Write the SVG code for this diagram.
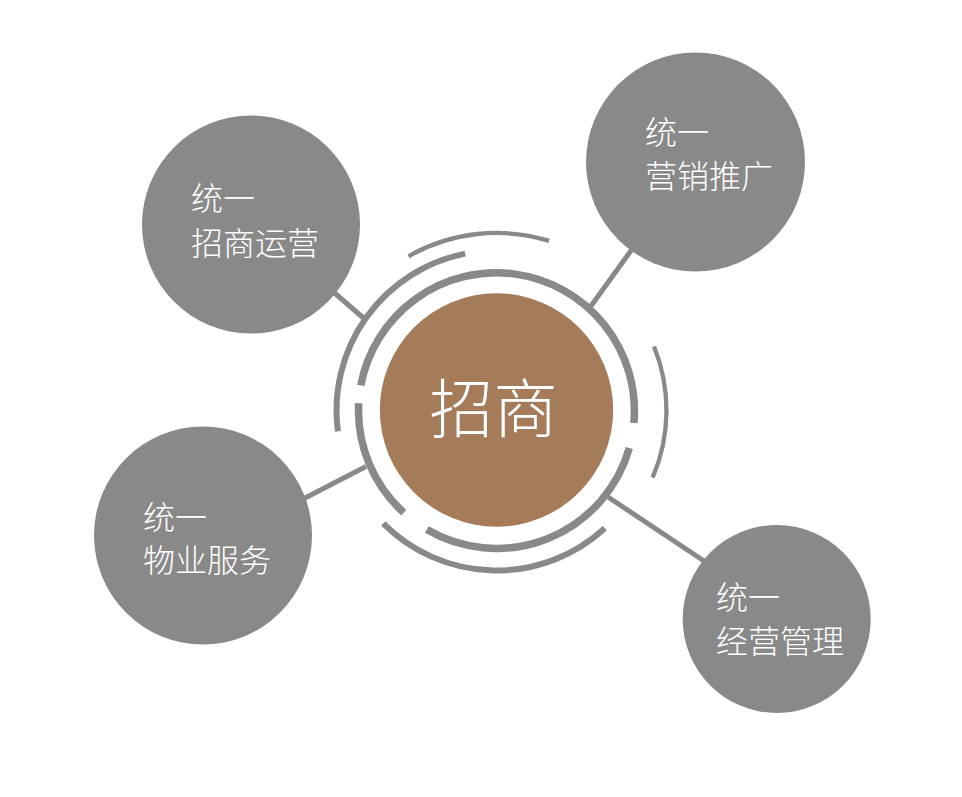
<svg xmlns="http://www.w3.org/2000/svg" width="962" height="797" viewBox="0 0 962 797">
<style>
.bg{fill:#ffffff}
.node{fill:#898989}
.hub{fill:#A57C5A}
.conn{stroke:#898989;stroke-width:5;fill:none}
.ring{stroke:#898989;fill:none}
.lbl{font-family:"Noto Sans CJK SC","Noto Sans",sans-serif;fill:#ffffff;font-size:32px;font-weight:300}
.hubt{font-family:"Noto Sans CJK SC","Noto Sans",sans-serif;fill:#ffffff;font-size:64px;font-weight:300;text-anchor:middle}
</style>
<rect class="bg" x="0" y="0" width="962" height="797"/>
<g id="connectors">
<line class="conn" x1="300" y1="263" x2="364" y2="318.5"/>
<line class="conn" x1="695" y1="162" x2="591" y2="306"/>
<line class="conn" x1="280" y1="511" x2="366" y2="466.5"/>
<line class="conn" x1="740" y1="585" x2="608" y2="497"/>
</g>
<g id="node-zsyy">
<circle class="node" cx="251" cy="224.5" r="109"/>
<text class="lbl" x="191" y="210">统一</text>
<text class="lbl" x="191" y="255">招商运营</text>
</g>
<g id="node-yxtg">
<circle class="node" cx="695.5" cy="162" r="109.5"/>
<text class="lbl" x="645" y="144">统一</text>
<text class="lbl" x="645" y="188">营销推广</text>
</g>
<g id="node-wyfw">
<circle class="node" cx="203" cy="535.5" r="109"/>
<text class="lbl" x="143" y="528.5">统一</text>
<text class="lbl" x="143" y="572">物业服务</text>
</g>
<g id="node-jygl">
<circle class="node" cx="776.7" cy="619" r="94"/>
<text class="lbl" x="716" y="608.5">统一</text>
<text class="lbl" x="716" y="653">经营管理</text>
</g>
<g id="rings">
<path class="ring" stroke-width="7.5" d="M360.8,385.4 A138,138 0 0 1 633.9,423.0"/>
<path class="ring" stroke-width="7.5" d="M629.3,448.1 A138,138 0 0 1 426.9,529.6"/>
<path class="ring" stroke-width="7.5" d="M403.8,512.7 A138,138 0 0 1 358.7,403.3"/>
<path class="ring" stroke-width="6" d="M337.9,431.4 A160,160 0 0 1 465.2,253.6"/>
<path class="ring" stroke-width="6" d="M604.8,528.3 A160,160 0 0 1 383.2,523.4"/>
<path class="ring" stroke-width="4.3" d="M654.0,346.5 A170,170 0 0 1 652.6,477.7"/>
<path class="ring" stroke-width="4.3" d="M408.5,256.3 A177.5,177.5 0 0 1 549.0,240.9"/>
</g>
<g id="node-hub">
<circle class="hub" cx="496.5" cy="410" r="116.7"/>
<text class="hubt" x="493.5" y="432">招商</text>
</g>
</svg>
